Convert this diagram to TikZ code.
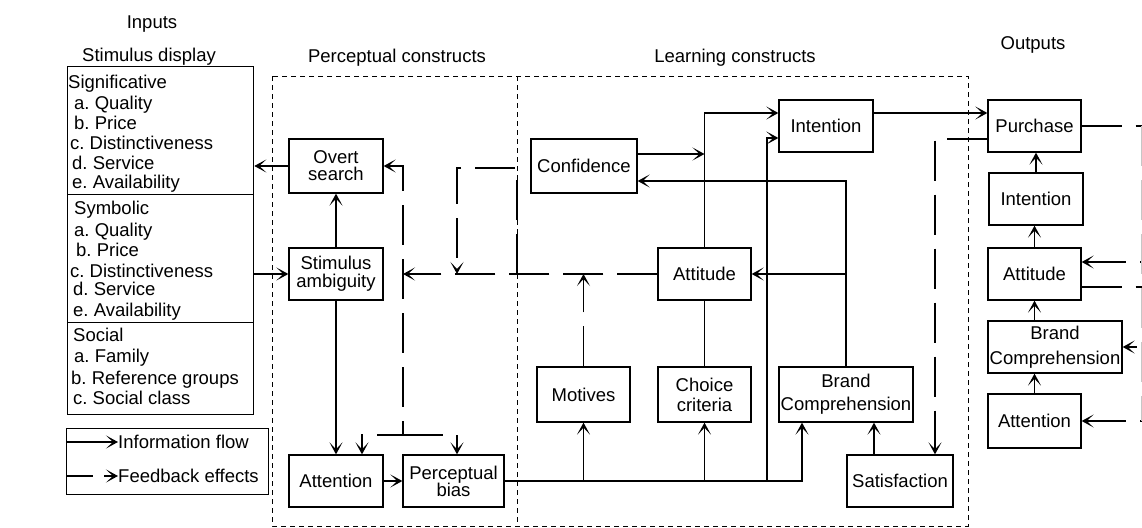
\documentclass[tikz,border=0pt]{standalone}
\usepackage{fontspec}
\setmainfont{Liberation Sans}
\usetikzlibrary{arrows.meta}
\frenchspacing
\begin{document}
\begin{tikzpicture}[x=1pt,y=-1pt,
  txt/.style={font=\fontsize{18.5pt}{20pt}\selectfont, inner sep=0pt},
  box/.style={txt, draw, line width=1.3pt, align=center},
  sect/.style={draw, line width=1.3pt, inner sep=0pt, anchor=north west, minimum width=186pt},
  ln/.style={line width=1.3pt},
  arr/.style={ln, -{Stealth[length=12pt,width=13pt,inset=7pt]}},
  rarr/.style={ln, {Stealth[length=12pt,width=13pt,inset=7pt]}-},
  barr/.style={ln, {Stealth[length=12pt,width=13pt,inset=7pt]}-{Stealth[length=12pt,width=13pt,inset=7pt]}},
  fb/.style={ln, dash pattern=on 40pt off 14pt},
  region/.style={line width=1pt, dash pattern=on 5pt off 4pt}]
\useasboundingbox (0,0) rectangle (1142,527);

% titles
\node[txt, anchor=base] (tin) at (152,29) {Inputs};
\node[txt, anchor=base] (tsd) at (149,62) {Stimulus display};
\node[txt, anchor=base] (tpc) at (397,63) {Perceptual constructs};
\node[txt, anchor=base] (tlc) at (735,63) {Learning constructs};
\node[txt, anchor=base] (tout) at (1033,50) {Outputs};

% stimulus display
\node[sect, minimum height=128pt] (sig) at (67,66) {};
\node[sect, minimum height=128pt] (sym) at (67,194) {};
\node[sect, minimum height=92pt] (soc) at (67,322) {};
\foreach \t/\x/\y [count=\i] in {Significative/68/88, a. Quality/74/109, b. Price/74/129,
  c. Distinctiveness/70/149, d. Service/72/169, e. Availability/72/188,
  Symbolic/74/214, a. Quality/74/236, b. Price/76/256, c. Distinctiveness/70/277,
  d. Service/73/295, e. Availability/73/316,
  Social/73/341, a. Family/74/362, b. Reference groups/71/384, c. Social class/73/404}
  \node[txt, anchor=base west] (sd\i) at (\x,\y) {\t};

% legend
\node[sect, minimum width=202pt, minimum height=66pt] (leg) at (66,428) {};
\coordinate (l1a) at (66,442); \coordinate (l1b) at (118,442);
\draw[arr] (l1a) -- (l1b);
\node[txt, anchor=base west] (l1t) at (118,448) {Information flow};
\coordinate (l2a) at (66,476); \coordinate (l2b) at (93,476);
\coordinate (l2c) at (104,476); \coordinate (l2d) at (118,476);
\draw[ln] (l2a) -- (l2b);
\draw[arr] (l2c) -- (l2d);
\node[txt, anchor=base west] (l2t) at (118,482) {Feedback effects};

% construct regions
\draw[region] (272,76) rectangle (968,526);
\draw[region] (517,76) -- (517,526);

% boxes
\node[box, minimum width=94pt, minimum height=54pt] (ovs) at (336,166) {Overt\\[-3pt]search};
\node[box, minimum width=94pt, minimum height=52pt] (sam) at (336,274) {Stimulus\\[-2pt]ambiguity};
\node[box, minimum width=94pt, minimum height=52pt] (att1) at (336,481) {Attention};
\node[box, minimum width=101pt, minimum height=52pt] (pb) at (453.5,481) {Perceptual\\[-3pt]bias};
\node[box, minimum width=106pt, minimum height=54pt] (conf) at (584,166) {Confidence};
\node[box, minimum width=94pt, minimum height=52pt] (int1) at (826,126) {Intention};
\node[box, minimum width=93pt, minimum height=52pt] (attl) at (704.5,274) {Attitude};
\node[box, minimum width=93pt, minimum height=55pt] (mot) at (583.5,394.5) {Motives};
\node[box, minimum width=93pt, minimum height=55pt] (cc) at (704.5,394.5) {Choice\\criteria};
\node[box, minimum width=134pt, minimum height=55pt] (bc1) at (846,394.5) {Brand\\[3pt]Comprehension};
\node[box, minimum width=106pt, minimum height=52pt] (sat) at (900,481) {Satisfaction};
\node[box, minimum width=93pt, minimum height=52pt] (pur) at (1034.5,126) {Purchase};
\node[box, minimum width=94pt, minimum height=52pt] (int2) at (1036,199) {Intention};
\node[box, minimum width=93pt, minimum height=52pt] (att2) at (1034.5,274) {Attitude};
\node[box, minimum width=134pt, minimum height=52pt] (bc2) at (1055,347) {Brand\\[5pt]Comprehension};
\node[box, minimum width=93pt, minimum height=54pt] (att3) at (1034.5,421) {Attention};

% perceptual connectors
\draw[arr] (ovs.west) -- (ovs.west -| sig.east);
\draw[arr] (sam.west -| sym.east) -- (sam.west);
\draw[arr] (sam.north) -- (ovs.south);
\draw[arr] (sam.south) -- (att1.north);
\draw[arr] (att1.east) -- (pb.west);

% perceptual feedback
\coordinate (v1) at (403,166); \coordinate (v2) at (403,435);
\coordinate (v3) at (362,435); \coordinate (v4) at (457,435);
\draw[fb, barr] (ovs.east) -- (v1) -- (v2) -- (v3) -- (v3 |- att1.north);
\draw[fb, arr] (v2) -- (v4) -- (v4 |- pb.north);
\draw[fb, arr] (attl.west) -- (attl.west -| v1);
\coordinate (w1) at (517,274); \coordinate (w2) at (517,168);
\coordinate (w3) at (457,168); \coordinate (w4) at (457,274);
\draw[fb, arr] (w1) -- (w2) -- (w3) -- (w4);
\draw[fb, arr] (mot.north) -- (mot.north |- attl.west);

% learning connectors
\coordinate (j4) at (802,481);
\draw[arr] (pb.east) -- (j4) -- (j4 |- bc1.south);
\draw[arr] (mot.south |- pb.east) -- (mot.south);
\draw[arr] (cc.south |- pb.east) -- (cc.south);
\coordinate (j3) at (767,481); \coordinate (k3) at (767,138);
\draw[arr] (j3) -- (k3) -- (k3 -| int1.west);
\draw[arr] ([yshift=12pt]conf.east) -- ([yshift=12pt]conf.east -| attl.north);
\draw[arr] (attl.north) -- ([yshift=13pt]int1.west -| attl.north) -- ([yshift=13pt]int1.west);
\draw[ln] (cc.north) -- (attl.south);
\draw[arr] (bc1.north) -- ([yshift=-15pt]conf.east -| bc1.north) -- ([yshift=-15pt]conf.east);
\draw[arr] (bc1.north |- attl.east) -- (attl.east);
\draw[arr] ([xshift=-26pt]sat.north) -- ([xshift=-26pt]sat.north |- bc1.south);
\draw[arr] ([yshift=13pt]int1.east) -- ([yshift=13pt]int1.east -| pur.west);
\coordinate (s1) at ([xshift=35pt]sat.north);
\draw[fb, arr] ([yshift=-13pt]pur.west) -- ([yshift=-13pt]pur.west -| s1) -- (s1);

% outputs
\draw[arr] (int2.north) -- (int2.north |- pur.south);
\draw[arr] (att2.north) -- (att2.north |- int2.south);
\draw[arr] (att2.south |- bc2.north) -- (att2.south);
\draw[arr] (att3.north) -- (att3.north |- bc2.south);

% right-side feedback
\coordinate (r1) at (1142,126); \coordinate (r2) at (1142,262);
\coordinate (r3) at (1142,287); \coordinate (r4) at (1142,421);
\coordinate (r0) at (1141.5,126); \coordinate (r5) at (1141.5,421);
\draw[fb] (pur.east) -- (r1);
\draw[fb, rarr] ([yshift=12pt]att2.east) -- (r2);
\draw[fb] ([yshift=-13pt]att2.east) -- (r3);
\draw[arr] ([xshift=14pt]bc2.east) -- (bc2.east);
\draw[fb, rarr] (att3.east) -- (r4);
\draw[line width=1pt, gray!45, dash pattern=on 40pt off 14pt] (r0) -- (r5);
\end{tikzpicture}
\end{document}
